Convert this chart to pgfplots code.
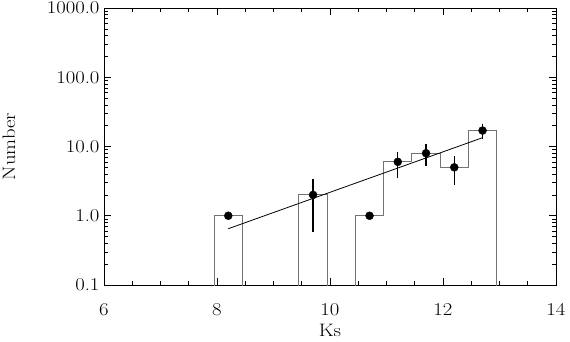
\documentclass[border=0pt]{standalone}
\usepackage{pgfplots}
\usepackage{graphicx}
\pgfplotsset{compat=1.18}
\newcommand\lab[1]{\scalebox{1.15}[1]{#1}}
\begin{document}
\begin{tikzpicture}
\useasboundingbox (-104bp,-57bp) rectangle (466bp,285bp);
\begin{axis}[
  at={(0,0)}, anchor=south west,
  scale only axis, width=452bp, height=277bp,
  xmin=6, xmax=14, ymode=log, ymin=0.1, ymax=1000,
  xtick={6,8,10,12,14},
  xticklabels={\lab{6},\lab{8},\lab{10},\lab{12},\lab{14}},
  minor x tick num=3,
  ytick={0.1,1,10,100,1000},
  minor ytick={0.2,0.3,0.4,0.5,0.6,0.7,0.8,0.9,2,3,4,5,6,7,8,9,20,30,40,50,60,70,80,90,200,300,400,500,600,700,800,900},
  yticklabels={\lab{0.1},\lab{1.0},\lab{10.0},\lab{100.0},\lab{1000.0}},
  tick align=inside,
  major tick length=7bp, minor tick length=4bp,
  tick style={black, line width=0.6bp},
  axis line style={line width=0.9bp},
  tick label style={font=\fontsize{18bp}{21bp}\selectfont},
  label style={font=\fontsize{18bp}{21bp}\selectfont},
  xticklabel style={yshift=-15bp},
  yticklabel style={xshift=-1bp},
  xlabel={\lab{Ks}},
  ylabel={\lab{Number}},
  xlabel style={anchor=center, at={(axis description cs:0.5,0)}, yshift=-45bp},
  ylabel style={anchor=center, at={(axis description cs:0,0.5)}, yshift=95bp},
  clip=true,
]
% histogram (bins of width 0.5)
\addplot[const plot, color=black!55, line width=1bp] coordinates {
  (7.45,0.01) (7.95,1) (8.45,0.01) (8.95,0.01) (9.45,2) (9.95,0.01)
  (10.45,1) (10.95,6) (11.45,8) (11.95,5) (12.45,17) (12.95,0.01) (13.45,0.01)
};
% fit line
\addplot[black, line width=0.8bp] coordinates {(8.2,0.65) (12.7,13.4)};
% error bars (sqrt N)
\addplot[black, line width=1.4bp] coordinates {(9.7,3.414) (9.7,0.586)};
\addplot[black, line width=1.4bp] coordinates {(11.2,8.449) (11.2,3.551)};
\addplot[black, line width=1.4bp] coordinates {(11.7,10.828) (11.7,5.172)};
\addplot[black, line width=1.4bp] coordinates {(12.2,7.236) (12.2,2.764)};
\addplot[black, line width=1.4bp] coordinates {(12.7,21.12) (12.7,12.88)};
% points
\addplot[only marks, mark=*, mark size=4bp, black] coordinates {
  (8.2,1) (9.7,2) (10.7,1) (11.2,6) (11.7,8) (12.2,5) (12.7,17)
};
\end{axis}
\end{tikzpicture}
\end{document}
